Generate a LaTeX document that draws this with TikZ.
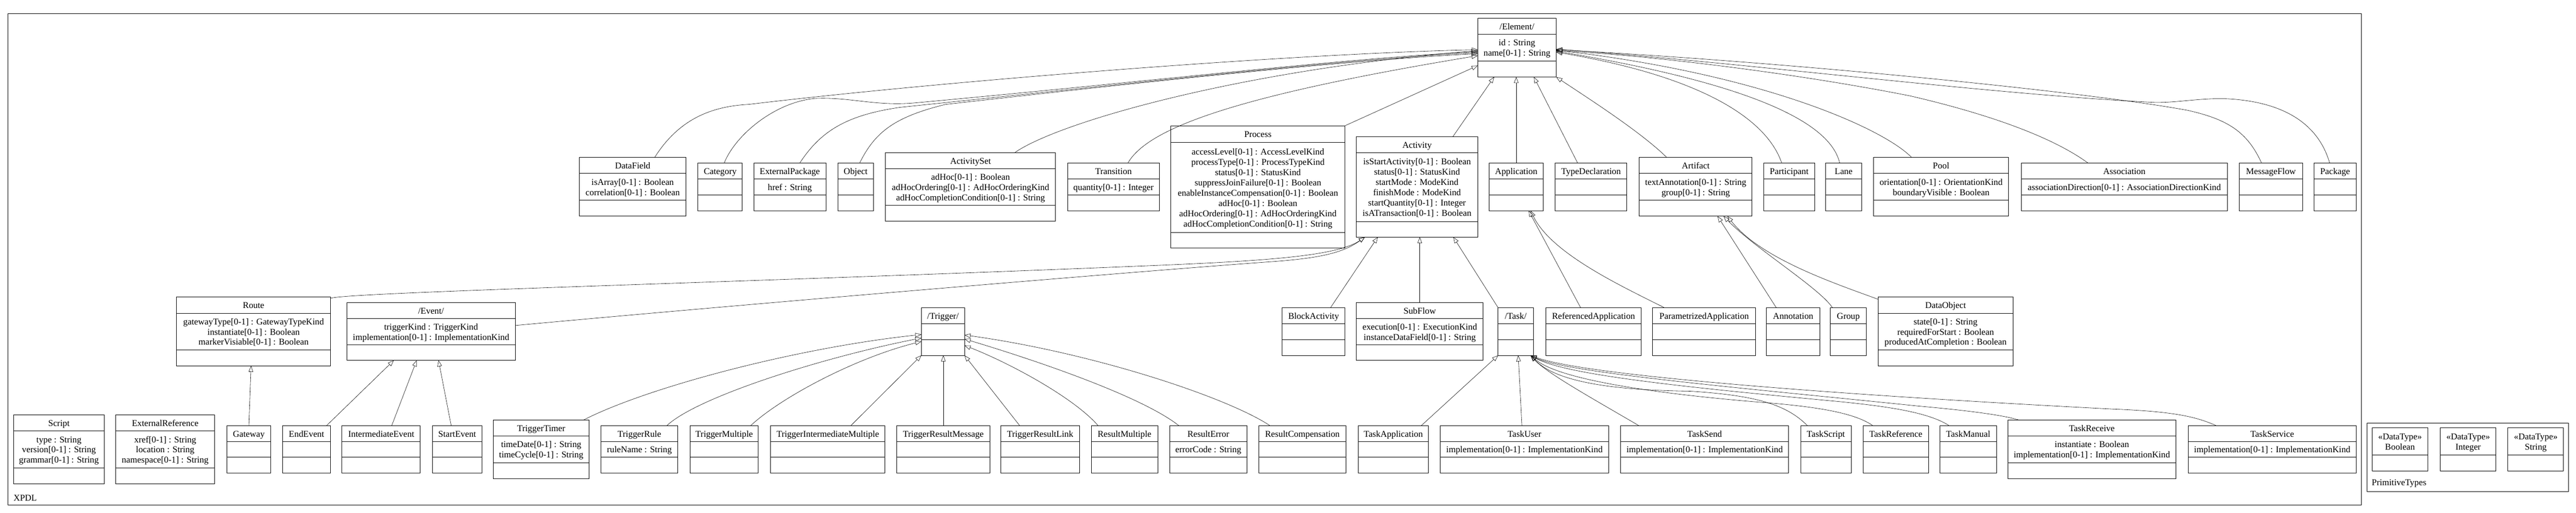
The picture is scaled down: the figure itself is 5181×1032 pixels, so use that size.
\documentclass[tikz,border=0pt]{standalone}
\usepackage{fontspec}
\setmainfont{Liberation Serif}
\usetikzlibrary{arrows.meta}
\begin{document}
\begin{tikzpicture}[x=1pt,y=-1pt]
\fontsize{18}{20.7}\selectfont
\tikzset{
    box/.style={draw, line width=1pt, inner sep=0pt, outer sep=0pt},
    txt/.style={inner sep=0pt, yshift=-2.4pt},
    gen/.style={line width=0.6pt, -{Triangle[open, length=12pt, width=9pt, line width=0.6pt]}},
}
\useasboundingbox (0,0) rectangle (5181,1032);
% class: name, left, top, right, first rule, second rule, bottom, title, attributes
\def\cls#1#2#3#4#5#6#7#8#9{%
  \node[box, minimum width={#4-#2}, minimum height={#7-#3}] (#1) at ({(#2+#4)/2},{(#3+#7)/2}) {};
  \draw[line width=1pt] (#2,#5) -- (#4,#5) (#2,#6) -- (#4,#6);
  \node[txt] at ({(#2+#4)/2},{(#3+#5)/2}) {\begin{tabular}{@{}c@{}}#8\end{tabular}};
  \node[txt] at ({(#2+#4)/2},{(#5+#6)/2}) {\begin{tabular}{@{}c@{}}#9\end{tabular}};
}
% data type: name, left, title
\def\dtype#1#2#3{%
  \node[box, minimum width=112, minimum height=86.4] (#1) at ({#2+56},904.2) {};
  \draw[line width=1pt] (#2,915) -- ({#2+112},915);
  \node[txt] at ({#2+56},888) {\begin{tabular}{@{}c@{}}«DataType»\\#3\end{tabular}};
}

% the two packages
\draw[line width=1pt] (16,27) rectangle (4749,1016);
\node[anchor=base west, inner sep=0pt] (xpdl) at (27,1008) {XPDL};
\draw[line width=1pt] (4761,851) rectangle (5166,989);
\node[anchor=base west, inner sep=0pt] (prim) at (4770,977) {PrimitiveTypes};

% top row
\cls{el}{2972}{37}{3130}{69}{123}{155}{/Element/}{id : String\\name[0-1] : String}
\cls{df}{1165}{317}{1380}{349}{403}{435}{DataField}{isArray[0-1] : Boolean\\correlation[0-1] : Boolean}
\cls{cat}{1404}{328}{1493}{360}{392}{424}{Category}{}
\cls{ep}{1516}{328}{1661}{360}{392}{424}{ExternalPackage}{href : String}
\cls{obj}{1685}{328}{1757}{360}{392}{424}{Object}{}
\cls{aset}{1781}{307}{2123}{339}{413}{445}{ActivitySet}{adHoc[0-1] : Boolean\\adHocOrdering[0-1] : AdHocOrderingKind\\adHocCompletionCondition[0-1] : String}
\cls{tr}{2147}{328}{2332}{360}{392}{424}{Transition}{quantity[0-1] : Integer}
\cls{pr}{2355}{253}{2705}{286}{468}{499}{Process}{accessLevel[0-1] : AccessLevelKind\\processType[0-1] : ProcessTypeKind\\status[0-1] : StatusKind\\suppressJoinFailure[0-1] : Boolean\\enableInstanceCompensation[0-1] : Boolean\\adHoc[0-1] : Boolean\\adHocOrdering[0-1] : AdHocOrderingKind\\adHocCompletionCondition[0-1] : String}
\cls{ac}{2728}{275}{2972}{307}{446}{477}{Activity}{isStartActivity[0-1] : Boolean\\status[0-1] : StatusKind\\startMode : ModeKind\\finishMode : ModeKind\\startQuantity[0-1] : Integer\\isATransaction[0-1] : Boolean}
\cls{app}{2995}{328}{3104}{360}{392}{424}{Application}{}
\cls{td}{3128}{328}{3272}{360}{392}{424}{TypeDeclaration}{}
\cls{art}{3297}{317}{3524}{349}{403}{435}{Artifact}{textAnnotation[0-1] : String\\group[0-1] : String}
\cls{par}{3547}{328}{3650}{360}{392}{424}{Participant}{}
\cls{lane}{3672}{328}{3744}{360}{392}{424}{Lane}{}
\cls{pool}{3768}{317}{4040}{349}{403}{435}{Pool}{orientation[0-1] : OrientationKind\\boundaryVisible : Boolean}
\cls{asc}{4065}{328}{4480}{360}{392}{424}{Association}{associationDirection[0-1] : AssociationDirectionKind}
\cls{mf}{4504}{328}{4631}{360}{392}{424}{MessageFlow}{}
\cls{pkg}{4654}{328}{4739}{360}{392}{424}{Package}{}

% middle row
\cls{ro}{355}{597}{665}{630}{704}{736}{Route}{gatewayType[0-1] : GatewayTypeKind\\instantiate[0-1] : Boolean\\markerVisiable[0-1] : Boolean}
\cls{ev}{697.5}{608.5}{1036.5}{641}{693.5}{725}{/Event/}{triggerKind : TriggerKind\\implementation[0-1] : ImplementationKind}
\cls{tg}{1853}{619}{1940}{651}{683}{715}{/Trigger/}{}
\cls{ba}{2579}{619}{2705}{651}{683}{715}{BlockActivity}{}
\cls{sf}{2728}{608.5}{2983}{641}{693.5}{725}{SubFlow}{execution[0-1] : ExecutionKind\\instanceDataField[0-1] : String}
\cls{tk}{3013}{619}{3084}{651}{683}{715}{/Task/}{}
\cls{ra}{3109}{619}{3301}{651}{683}{715}{ReferencedApplication}{}
\cls{pa}{3324}{619}{3531}{651}{683}{715}{ParametrizedApplication}{}
\cls{an}{3553}{619}{3660}{651}{683}{715}{Annotation}{}
\cls{gr}{3681}{619}{3754}{651}{683}{715}{Group}{}
\cls{dob}{3777}{597}{4049}{630}{704}{736}{DataObject}{state[0-1] : String\\requiredForStart : Boolean\\producedAtCompletion : Boolean}

% bottom row
\cls{scr}{27.5}{835}{209.5}{867}{941.5}{973}{Script}{type : String\\version[0-1] : String\\grammar[0-1] : String}
\cls{xr}{232.5}{835}{432}{867}{941.5}{973}{ExternalReference}{xref[0-1] : String\\location : String\\namespace[0-1] : String}
\cls{gw}{456}{856.5}{545}{888}{920}{952}{Gateway}{}
\cls{ee}{568}{856.5}{665}{888}{920}{952}{EndEvent}{}
\cls{ie}{688}{856.5}{845.5}{888}{920}{952}{IntermediateEvent}{}
\cls{se}{869.5}{856.5}{969.5}{888}{920}{952}{StartEvent}{}
\cls{tt}{992}{845}{1185}{877}{931.5}{963}{TriggerTimer}{timeDate[0-1] : String\\timeCycle[0-1] : String}
\cls{tru}{1209}{856.5}{1363}{888}{920}{952}{TriggerRule}{ruleName : String}
\cls{tmu}{1388}{856.5}{1525}{888}{920}{952}{TriggerMultiple}{}
\cls{tim}{1550}{856.5}{1780}{888}{920}{952}{TriggerIntermediateMultiple}{}
\cls{trm}{1803}{856.5}{1991.5}{888}{920}{952}{TriggerResultMessage}{}
\cls{trl}{2013}{856.5}{2171}{888}{920}{952}{TriggerResultLink}{}
\cls{rmu}{2195}{856.5}{2328.5}{888}{920}{952}{ResultMultiple}{}
\cls{rer}{2352.5}{856.5}{2508}{888}{920}{952}{ResultError}{errorCode : String}
\cls{rco}{2532}{856.5}{2707}{888}{920}{952}{ResultCompensation}{}
\cls{tap}{2731.5}{856.5}{2873}{888}{920}{952}{TaskApplication}{}
\cls{tu}{2896.5}{856.5}{3235.5}{888}{920}{952}{TaskUser}{implementation[0-1] : ImplementationKind}
\cls{tse}{3259.5}{856.5}{3597.5}{888}{920}{952}{TaskSend}{implementation[0-1] : ImplementationKind}
\cls{tsc}{3621.5}{856.5}{3723}{888}{920}{952}{TaskScript}{}
\cls{tre}{3747}{856.5}{3879}{888}{920}{952}{TaskReference}{}
\cls{tma}{3901.5}{856.5}{4015.5}{888}{920}{952}{TaskManual}{}
\cls{trc}{4038}{845}{4376.5}{877}{931.5}{963}{TaskReceive}{instantiate : Boolean\\implementation[0-1] : ImplementationKind}
\cls{tsv}{4401}{856.5}{4739}{888}{920}{952}{TaskService}{implementation[0-1] : ImplementationKind}

% primitive types
\dtype{tbool}{4771}{Boolean}
\dtype{tint}{4908}{Integer}
\dtype{tstr}{5044}{String}

% generalisations into Element, from the left
\draw[gen] ([xshift=44pt]df.north) .. controls (1365,240) and (1430,214) .. (1506,210) .. controls (1900,163) and (2600,108) .. ([yshift=-4pt]el.west);
\draw[gen] ([xshift=8pt]cat.north) .. controls (1480,270) and (1560,205) .. (1640,198) .. controls (1710,195) and (1760,214) .. (1840,207) .. controls (2300,165) and (2700,118) .. ([yshift=-8pt]el.west);
\draw[gen] ([xshift=20pt]ep.north) .. controls (1650,265) and (1700,232) .. (1810,216) .. controls (2300,165) and (2700,120) .. ([yshift=-10pt]el.west);
\draw[gen] ([xshift=8pt]obj.north) .. controls (1760,265) and (1800,235) .. (1902,210) .. controls (2300,165) and (2700,122) .. ([yshift=-12pt]el.west);
\draw[gen] ([xshift=89pt]aset.north) .. controls (2130,245) and (2500,140) .. ([yshift=-6pt]el.west);
\draw[gen] ([xshift=29pt]tr.north) .. controls (2310,255) and (2500,190) .. ([yshift=-16pt]el.west);
\draw[gen] (pr.north east) -- ([yshift=-36pt]el.west);

% from below
\draw[gen] ([xshift=72pt]ac.north) -- ([xshift=-46pt]el.south);
\draw[gen] (app.north) -- (app.north |- el.south);
\draw[gen] ([xshift=-27pt]td.north) -- ([xshift=34pt]el.south);
\draw[gen] ([xshift=-58pt]art.north) .. controls (3300,265) and (3190,195) .. (el.south east);

% from the right
\draw[gen] ([xshift=-15pt]par.north) .. controls (3550,230) and (3400,150) .. ([yshift=-9pt]el.east);
\draw[gen] ([xshift=-8pt]lane.north) .. controls (3680,240) and (3500,165) .. ([yshift=-7pt]el.east);
\draw[gen] ([xshift=-59pt]pool.north) .. controls (3790,260) and (3550,150) .. ([yshift=-5pt]el.east);
\draw[gen] ([xshift=-73pt]asc.north) .. controls (4120,270) and (3980,225) .. (3842,193) .. controls (3600,145) and (3300,110) .. ([yshift=-6pt]el.east);
\draw[gen] ([xshift=-19pt]mf.north) .. controls (4520,265) and (4480,240) .. (4400,222) .. controls (4200,185) and (3600,125) .. ([yshift=-4pt]el.east);
\draw[gen] ([xshift=-11pt]pkg.north) .. controls (4660,240) and (4580,205) .. (4484,199) .. controls (4430,196) and (4380,207) .. (4333,206) .. controls (4000,190) and (3500,125) .. ([yshift=-3pt]el.east);

% into Activity
\draw[gen] ([yshift=-3pt]ro.north east) .. controls (700,588) and (1500,568) .. (2300,535) .. controls (2550,525) and (2690,515) .. ([xshift=-105pt]ac.south);
\draw[gen] ([yshift=12pt]ev.east) .. controls (1500,612) and (2300,545) .. (2550,527) .. controls (2650,520) and (2700,510) .. ([xshift=-105pt]ac.south);
\draw[gen] ([xshift=34pt]ba.north) -- ([xshift=-79pt]ac.south);
\draw[gen] (sf.north) -- (sf.north |- ac.south);
\draw[gen] (tk.north west) -- ([xshift=73pt]ac.south);

% into Application and Artifact
\draw[gen] ([xshift=-26pt]ra.north) -- ([xshift=25pt]app.south);
\draw[gen] ([xshift=-80pt]pa.north) .. controls (3260,575) and (3120,510) .. ([xshift=29pt]app.south);
\draw[gen] ([xshift=-34pt]an.north) -- ([xshift=44pt]art.south);
\draw[gen] ([xshift=-32pt]gr.north) .. controls (3660,580) and (3530,500) .. ([xshift=56pt]art.south);
\draw[gen] ([yshift=-5pt]dob.north west) .. controls (3690,570) and (3540,520) .. ([xshift=64pt]art.south);

% into Route and Event
\draw[gen] (gw.north) -- ([xshift=-5pt]ro.south);
\draw[gen] ([xshift=40pt]ee.north) -- ([xshift=-75pt]ev.south);
\draw[gen] ([xshift=21pt]ie.north) -- ([xshift=-29pt]ev.south);
\draw[gen] ([xshift=-12pt]se.north) -- ([xshift=15pt]ev.south);

% into Trigger
\draw[gen] ([xshift=85pt]tt.north) .. controls (1300,780) and (1600,700) .. ([yshift=-6pt]tg.west);
\draw[gen] ([xshift=55pt]tru.north) .. controls (1400,800) and (1650,720) .. ([yshift=-13pt]tg.west);
\draw[gen] ([xshift=53pt]tmu.north) .. controls (1570,800) and (1720,720) .. ([yshift=-20pt]tg.west);
\draw[gen] ([xshift=46pt]tim.north) -- (tg.south west);
\draw[gen] (trm.north) -- (trm.north |- tg.south);
\draw[gen] ([xshift=-41pt]trl.north) -- (tg.south east);
\draw[gen] ([xshift=-53pt]rmu.north) .. controls (2160,800) and (2030,730) .. ([yshift=-28pt]tg.east);
\draw[gen] ([xshift=-59pt]rer.north) .. controls (2300,800) and (2100,730) .. ([yshift=-15pt]tg.east);
\draw[gen] ([xshift=-65pt]rco.north) .. controls (2470,800) and (2200,710) .. ([yshift=-7pt]tg.east);

% into Task
\draw[gen] ([xshift=56pt]tap.north) -- (tk.south west);
\draw[gen] ([xshift=-5pt]tu.north) -- ([xshift=5pt]tk.south);
\draw[gen] ([xshift=-132pt]tse.north) .. controls (3200,800) and (3110,750) .. ([xshift=30pt]tk.south);
\draw[gen] ([xshift=-37pt]tsc.north) .. controls (3590,810) and (3520,795) .. (3400,787) .. controls (3250,785) and (3130,770) .. ([xshift=30pt]tk.south);
\draw[gen] ([xshift=-46pt]tre.north) .. controls (3730,830) and (3650,818) .. (3550,810) .. controls (3300,790) and (3130,760) .. ([xshift=30pt]tk.south);
\draw[gen] ([xshift=-38pt]tma.north) .. controls (3880,830) and (3800,818) .. (3700,808) .. controls (3400,780) and (3150,755) .. ([xshift=30pt]tk.south);
\draw[gen] ([xshift=-147pt]trc.north) .. controls (4030,835) and (3950,825) .. (3859,817) .. controls (3500,780) and (3150,750) .. ([xshift=30pt]tk.south);
\draw[gen] ([xshift=-112pt]tsv.north) .. controls (4420,840) and (4380,828) .. (4250,823) .. controls (3800,800) and (3200,760) .. ([xshift=30pt]tk.south);
\end{tikzpicture}
\end{document}
